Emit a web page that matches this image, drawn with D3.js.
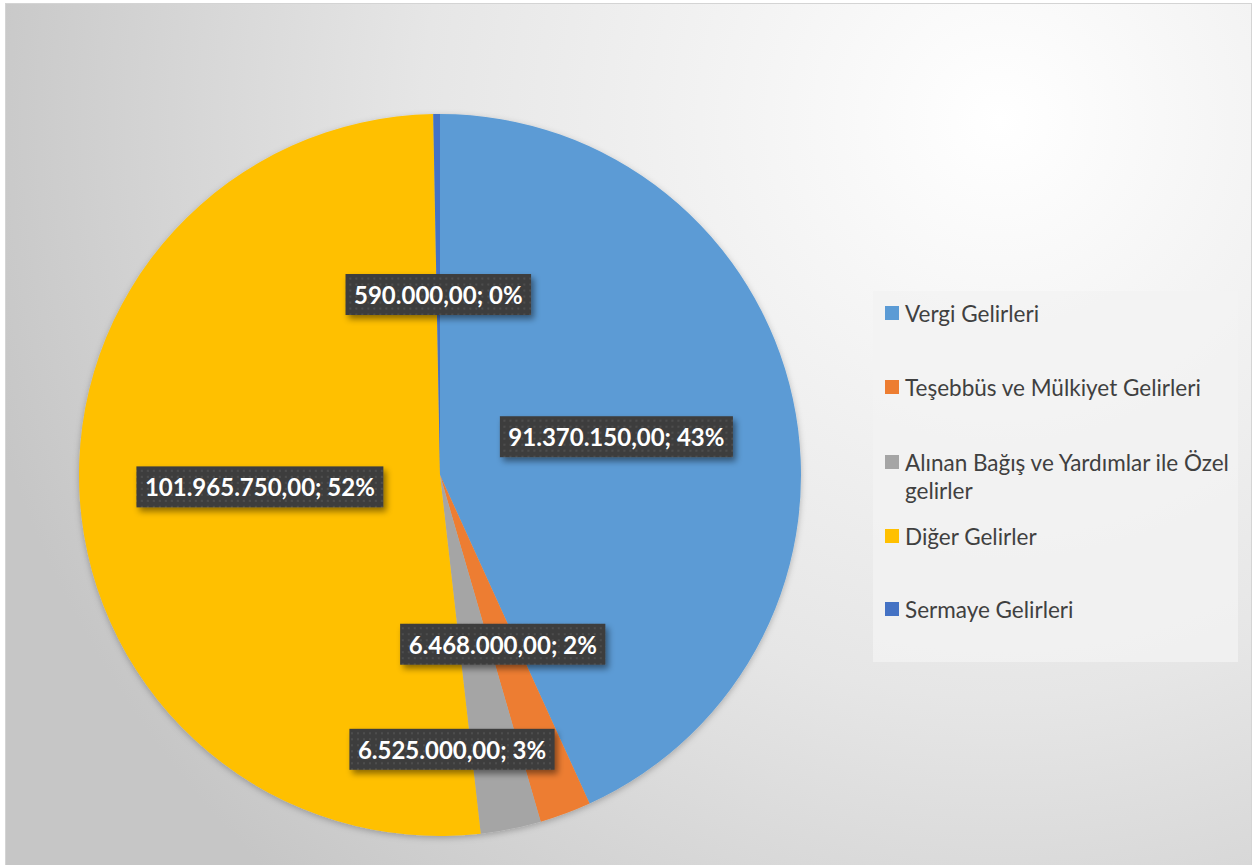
<!DOCTYPE html>
<html>
<head>
<meta charset="utf-8">
<script src="https://cdn.jsdelivr.net/npm/d3@7"></script>
<style>
  html, body { margin: 0; padding: 0; background: #fff; }
  svg { display: block; }
</style>
</head>
<body>
<div id="chart"></div>
<script>
/* data */
let categories = ['Vergi Gelirleri', 'Teşebbüs ve Mülkiyet Gelirleri', 'Alınan Bağış ve Yardımlar ile Özel gelirler', 'Diğer Gelirler', 'Sermaye Gelirleri'];
let legendLines = [['Vergi Gelirleri'], ['Teşebbüs ve Mülkiyet Gelirleri'], ['Alınan Bağış ve Yardımlar ile Özel', 'gelirler'], ['Diğer Gelirler'], ['Sermaye Gelirleri']];
let amounts = [91370150, 6468000, 6525000, 101965750, 590000];   /* label values */
let shares = [43.2, 2.3, 2.7, 51.5, 0.3];                         /* slice share, % */
let colors = ['#5B9BD5', '#ED7D31', '#A5A5A5', '#FFC000', '#4472C4'];

let width = 1254,
    height = 865,
    cx = 440,
    cy = 475,
    radius = 361;

let trFormat = d3.formatLocale({decimal: ',', thousands: '.', grouping: [3], currency: ['', '']}).format(',.2f');

let svg = d3.select('#chart').append('svg')
  .attr('width', width)
  .attr('height', height);

let defs = svg.append('defs');

/* fond dégradé */
let grad = defs.append('radialGradient')
  .attr('id', 'bg')
  .attr('gradientUnits', 'userSpaceOnUse')
  .attr('cx', 1000).attr('cy', 120).attr('r', 1050);
grad.append('stop').attr('offset', 0).attr('stop-color', '#ffffff');
grad.append('stop').attr('offset', 0.55).attr('stop-color', '#e6e6e6');
grad.append('stop').attr('offset', 1).attr('stop-color', '#c6c6c6');

/* motif des étiquettes */
let pat = defs.append('pattern')
  .attr('id', 'dots')
  .attr('patternUnits', 'userSpaceOnUse')
  .attr('width', 6).attr('height', 6);
pat.append('rect').attr('width', 6).attr('height', 6).attr('fill', '#3d3d3d');
pat.append('rect').attr('x', 1).attr('y', 1).attr('width', 2).attr('height', 2).attr('fill', '#4e4e4e');

let shadow = defs.append('filter').attr('id', 'shadow')
  .attr('x', '-20%').attr('y', '-30%').attr('width', '140%').attr('height', '170%');
shadow.append('feDropShadow')
  .attr('dx', 3).attr('dy', 4).attr('stdDeviation', 3)
  .attr('flood-color', '#000').attr('flood-opacity', 0.45);

let pieShadow = defs.append('filter').attr('id', 'pieShadow')
  .attr('x', '-10%').attr('y', '-10%').attr('width', '120%').attr('height', '120%');
pieShadow.append('feDropShadow')
  .attr('dx', 0).attr('dy', 2).attr('stdDeviation', 3)
  .attr('flood-color', '#000').attr('flood-opacity', 0.25);

svg.append('rect')
  .attr('x', 5.5).attr('y', 3.5)
  .attr('width', width - 8).attr('height', height)
  .attr('fill', 'url(#bg)')
  .attr('stroke', '#d4d4d4');

/* camembert */
let pie = d3.pie().sort(null).value((d) => d);
let arcs = pie(shares);
let arc = d3.arc().innerRadius(0).outerRadius(radius);

let g = svg.append('g').attr('transform', 'translate(' + cx + ',' + cy + ')');

g.append('g').attr('filter', 'url(#pieShadow)')
  .selectAll('path')
  .data(arcs)
  .enter()
  .append('path')
  .attr('d', arc)
  .attr('fill', (d, i) => colors[i]);

/* étiquettes */
let labelFont = 'bold 24px Lato, "Open Sans", sans-serif';
let labels = arcs.map((d, i) => {
  return {
    text: trFormat(amounts[i]) + '; ' + Math.round(shares[i]) + '%',
    angle: (d.startAngle + d.endAngle) / 2,
    r: radius * 0.5
  };
});

let labelG = g.append('g');
let boxes = [];
labels.forEach((l) => {
  let grp = labelG.append('g');
  let t = grp.append('text')
    .attr('text-anchor', 'middle')
    .attr('dominant-baseline', 'central')
    .style('font', labelFont)
    .attr('fill', '#ffffff')
    .text(l.text);
  let w = t.node().getComputedTextLength() + 17;
  let h = 41;
  let x = Math.sin(l.angle) * l.r,
      y = -Math.cos(l.angle) * l.r;
  /* écarter si chevauchement */
  let overlaps = () => boxes.some((b) => Math.abs(b.x - x) < (b.w + w) / 2 && Math.abs(b.y - y) < (b.h + h) / 2);
  if (overlaps()) {
    l.r = radius * 0.775;
    x = Math.sin(l.angle) * l.r - 43;
    y = -Math.cos(l.angle) * l.r;
  }
  boxes.push({x: x, y: y, w: w, h: h});
  grp.attr('transform', 'translate(' + x + ',' + y + ')');
  grp.insert('rect', 'text')
    .attr('x', -w / 2).attr('y', -h / 2)
    .attr('width', w).attr('height', h)
    .attr('fill', 'url(#dots)')
    .attr('filter', 'url(#shadow)');
});

/* légende */
let legend = svg.append('g');
legend.append('rect')
  .attr('x', 873).attr('y', 291)
  .attr('width', 365).attr('height', 371)
  .attr('fill', '#f2f2f2')
  .attr('fill-opacity', 0.8);

let rowY = [313, 387, 462, 536, 609];
legendLines.forEach((lines, i) => {
  legend.append('rect')
    .attr('x', 885).attr('y', rowY[i] - 7)
    .attr('width', 14).attr('height', 14)
    .attr('fill', colors[i]);
  let t = legend.append('text')
    .attr('x', 905)
    .attr('y', rowY[i])
    .attr('dominant-baseline', 'central')
    .attr('fill', '#404040')
    .style('font', '22.5px Lato, "Open Sans", sans-serif');
  lines.forEach((line, j) => {
    t.append('tspan')
      .attr('x', 905)
      .attr('dy', j === 0 ? 0 : 28)
      .text(line);
  });
});
</script>
</body>
</html>
